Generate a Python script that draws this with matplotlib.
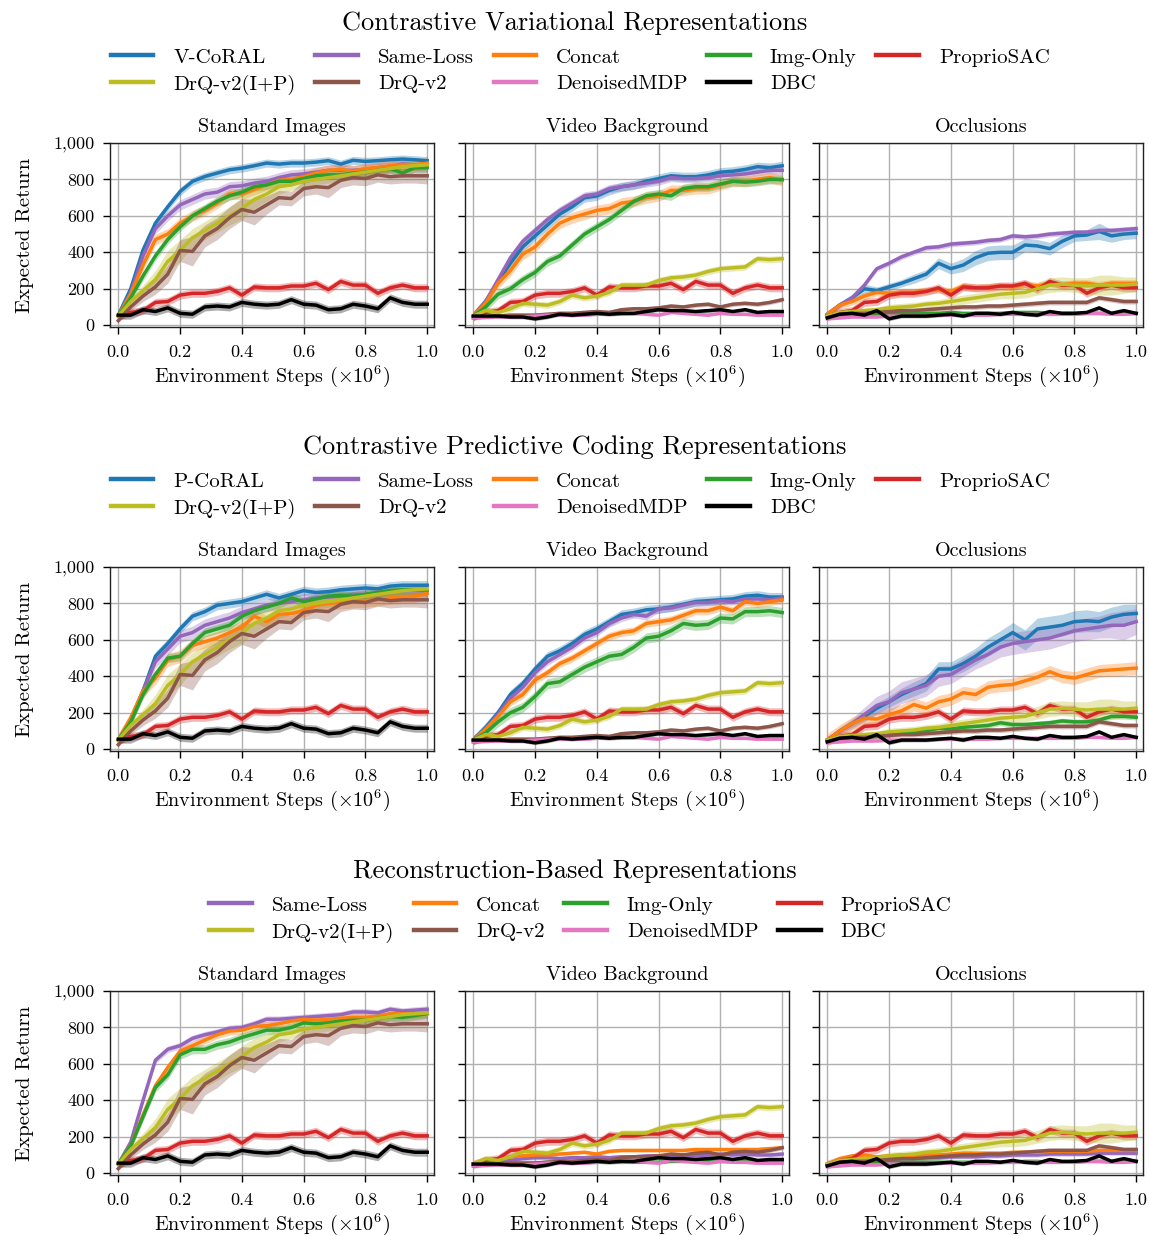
import matplotlib
matplotlib.use("Agg")
import matplotlib.pyplot as plt
from matplotlib.lines import Line2D
from matplotlib.ticker import FuncFormatter, MultipleLocator

plt.rcParams["font.family"] = "cmr10"
plt.rcParams["mathtext.fontset"] = "cm"
plt.rcParams["axes.formatter.use_mathtext"] = True

# environment steps (x 1e6)
STEPS = [0.00, 0.04, 0.08, 0.12, 0.16, 0.20, 0.24, 0.28, 0.32, 0.36, 0.40, 0.44, 0.48,
         0.52, 0.56, 0.60, 0.64, 0.68, 0.72, 0.76, 0.80, 0.84, 0.88, 0.92, 0.96, 1.00]

SECTIONS = ["Contrastive Variational Representations",
            "Contrastive Predictive Coding Representations",
            "Reconstruction-Based Representations"]
ENVS = ["Standard Images", "Video Background", "Occlusions"]

# ---- baselines shared by all three rows ----
proprio_sac = [50, 70, 80, 125, 130, 165, 175, 175, 185, 205, 165, 210, 205, 205, 215, 215,
               230, 195, 240, 220, 220, 175, 205, 220, 205, 205]
drq_ip_std = [50, 130, 190, 250, 350, 410, 480, 520, 560, 600, 640, 690, 720, 760, 770, 790,
              800, 810, 820, 830, 840, 850, 860, 870, 875, 880]
drq_ip_std_band = [10, 20, 30, 50, 60, 60, 50, 50, 50, 50, 60, 50, 40, 40, 30, 30, 30, 30, 30,
                   30, 25, 25, 25, 25, 25, 25]
drq_ip_video = [50, 80, 70, 90, 120, 115, 110, 130, 165, 150, 160, 180, 220, 220, 220, 245,
                260, 265, 275, 295, 310, 315, 320, 365, 360, 365]
drq_ip_occ = [50, 70, 75, 80, 85, 95, 100, 105, 115, 120, 130, 140, 150, 160, 170, 175, 180,
              200, 220, 225, 220, 215, 220, 220, 220, 225]
drq_ip_occ_band = [10, 15, 15, 15, 15, 20, 20, 20, 20, 20, 25, 25, 25, 25, 25, 30, 30, 35, 40,
                   40, 40, 45, 55, 55, 45, 40]
drq_std = [25, 100, 160, 210, 280, 410, 405, 490, 530, 590, 635, 620, 660, 700, 695, 750, 760,
           755, 795, 810, 805, 825, 815, 820, 820, 820]
drq_std_band = [10, 20, 30, 40, 50, 60, 80, 60, 60, 60, 60, 70, 50, 40, 40, 40, 40, 55, 40,
                40, 40, 40, 40, 40, 40, 45]
drq_video = [40, 45, 50, 55, 55, 55, 60, 65, 65, 70, 75, 70, 85, 90, 90, 95, 105, 100, 110,
             115, 100, 115, 120, 115, 125, 140]
drq_occ = [40, 60, 65, 65, 70, 75, 80, 80, 85, 90, 95, 100, 100, 105, 105, 110, 115, 120, 125,
           125, 125, 125, 150, 140, 130, 130]
dbc_std = [55, 55, 85, 75, 95, 65, 60, 100, 105, 100, 125, 115, 110, 115, 140, 115, 110, 85,
           90, 115, 105, 90, 150, 125, 115, 115]
dbc_video = [50, 50, 50, 45, 45, 35, 45, 60, 55, 60, 65, 60, 65, 65, 75, 85, 80, 80, 75, 80,
             85, 75, 85, 70, 75, 75]
dbc_occ = [40, 60, 65, 55, 80, 35, 50, 50, 50, 55, 60, 50, 65, 65, 60, 70, 60, 55, 75, 65,
           65, 70, 95, 65, 80, 65]
denoised_video = [40, 45, 45, 45, 45, 50, 55, 55, 55, 55, 60, 60, 60, 65, 60, 55, 70, 65, 60,
                  55, 65, 60, 60, 55, 55, 55]
denoised_occ = [35, 40, 45, 45, 45, 50, 50, 50, 50, 55, 55, 55, 55, 55, 60, 60, 60, 60, 60, 60,
                60, 65, 65, 60, 60, 65]

# ---- contrastive variational row ----
vcoral_std = [55, 200, 413, 560, 650, 734, 789, 816, 835, 853, 862, 875, 890, 884, 890, 890,
              895, 903, 884, 905, 899, 903, 908, 912, 908, 903]
vcoral_video = [50, 130, 240, 340, 430, 490, 550, 610, 650, 700, 710, 740, 760, 770, 790, 805,
                820, 815, 815, 825, 840, 845, 855, 870, 865, 875]
vcoral_occ = [60, 110, 150, 200, 190, 210, 230, 255, 280, 340, 310, 330, 370, 395, 400, 400,
              440, 435, 420, 460, 490, 495, 515, 490, 500, 505]
vcoral_occ_band = [10, 15, 20, 25, 20, 20, 20, 25, 25, 30, 30, 35, 40, 40, 40, 40, 35, 35, 35,
                   35, 30, 30, 45, 35, 30, 30]
cv_same_std = [50, 180, 380, 530, 600, 660, 690, 720, 730, 760, 765, 780, 790, 810, 825, 830,
               840, 850, 850, 850, 855, 865, 870, 885, 880, 880]
cv_same_video = [50, 130, 250, 370, 460, 520, 580, 630, 670, 710, 720, 750, 760, 770, 780, 790,
                 810, 805, 805, 810, 820, 825, 830, 840, 850, 850]
cv_same_occ = [60, 110, 150, 220, 310, 340, 375, 400, 425, 430, 445, 450, 455, 465, 470, 490,
               485, 490, 500, 505, 510, 510, 520, 520, 525, 530]
cv_concat_std = [50, 170, 330, 470, 500, 560, 600, 630, 670, 720, 720, 745, 770, 795, 800, 815,
                 835, 850, 855, 845, 860, 865, 875, 880, 880, 890]
cv_concat_video = [50, 120, 230, 300, 390, 430, 500, 560, 590, 610, 630, 640, 670, 680, 700,
                   710, 740, 740, 750, 750, 770, 790, 790, 800, 810, 795]
cv_concat_occ = [60, 110, 130, 160, 180, 175, 180, 180, 190, 195, 185, 215, 205, 210, 215, 210,
                 225, 215, 230, 220, 230, 230, 220, 230, 230, 230]
cv_img_std = [50, 150, 270, 380, 470, 540, 600, 640, 680, 710, 730, 760, 770, 790, 790, 805,
              820, 825, 825, 835, 840, 850, 860, 835, 865, 865]
cv_img_video = [50, 100, 170, 200, 250, 290, 350, 380, 440, 500, 540, 580, 630, 680, 710, 720,
                710, 750, 760, 760, 775, 790, 785, 790, 800, 800]
cv_img_occ = [50, 55, 60, 60, 60, 65, 65, 65, 65, 65, 70, 65, 65, 65, 65, 70, 70, 70, 65, 65,
              65, 65, 65, 65, 65, 65]

# ---- contrastive predictive coding row ----
pcoral_std = [50, 160, 320, 510, 580, 660, 730, 755, 790, 800, 810, 830, 850, 830, 850, 870,
              860, 865, 875, 880, 885, 880, 895, 900, 900, 900]
pcoral_video = [50, 120, 200, 300, 360, 440, 510, 540, 580, 630, 660, 700, 740, 750, 765, 770,
                780, 795, 810, 815, 820, 825, 840, 845, 835, 835]
pcoral_occ = [50, 100, 140, 180, 225, 260, 300, 330, 360, 440, 440, 470, 510, 560, 600, 640,
              600, 660, 670, 680, 700, 705, 700, 725, 740, 745]
pcoral_occ_band = [10, 15, 20, 25, 30, 30, 35, 40, 40, 40, 40, 45, 45, 50, 50, 55, 55, 60, 60,
                   60, 60, 60, 55, 55, 55, 50]
cpc_same_std = [50, 160, 320, 480, 550, 620, 640, 680, 700, 720, 750, 770, 790, 800, 810, 820,
                830, 835, 840, 850, 850, 860, 870, 870, 870, 870]
cpc_same_video = [50, 110, 190, 280, 340, 420, 480, 520, 560, 610, 640, 690, 720, 740, 730,
                  770, 775, 790, 805, 805, 815, 810, 825, 825, 820, 830]
cpc_same_occ = [50, 100, 140, 190, 240, 260, 310, 330, 350, 400, 410, 450, 490, 520, 560, 580,
                590, 600, 610, 630, 650, 660, 670, 680, 680, 700]
cpc_same_occ_band = [10, 20, 30, 40, 50, 60, 60, 60, 60, 55, 50, 50, 50, 50, 55, 60, 60, 60,
                     60, 60, 60, 60, 60, 70, 80, 70]
cpc_concat_std = [50, 170, 320, 390, 490, 510, 570, 590, 610, 640, 670, 730, 700, 740, 745,
                  760, 790, 800, 805, 810, 815, 820, 830, 835, 840, 855]
cpc_concat_video = [50, 110, 180, 260, 300, 380, 420, 470, 500, 540, 580, 620, 640, 650, 690,
                    700, 710, 735, 760, 760, 780, 760, 810, 800, 810, 820]
cpc_concat_occ = [50, 100, 140, 170, 165, 190, 210, 245, 225, 260, 275, 310, 300, 340, 350, 355,
                  375, 395, 425, 400, 390, 410, 430, 435, 440, 445]
cpc_img_std = [50, 150, 300, 410, 500, 510, 580, 640, 660, 680, 730, 760, 780, 800, 830, 810,
               825, 840, 845, 840, 850, 860, 870, 875, 875, 875]
cpc_img_video = [50, 90, 150, 200, 230, 290, 360, 370, 410, 450, 480, 510, 520, 560, 610, 620,
                 650, 690, 680, 685, 720, 715, 755, 755, 760, 750]
cpc_img_occ = [50, 60, 65, 70, 75, 80, 90, 95, 100, 115, 110, 120, 125, 130, 145, 135, 135, 140,
               145, 155, 150, 150, 160, 180, 180, 175]

# ---- reconstruction row (no main method) ----
rec_same_std = [50, 170, 400, 620, 680, 700, 740, 760, 775, 795, 800, 820, 845, 845, 850, 855,
                860, 865, 870, 885, 885, 880, 900, 890, 895, 900]
rec_same_video = [50, 55, 60, 70, 80, 85, 85, 80, 85, 85, 90, 85, 90, 90, 95, 95, 95, 100, 95,
                  100, 105, 100, 105, 100, 100, 105]
rec_same_occ = [40, 55, 65, 70, 70, 75, 80, 80, 85, 85, 90, 90, 90, 95, 95, 100, 100, 100, 105,
                105, 105, 105, 110, 110, 110, 110]
rec_concat_std = [50, 150, 320, 480, 580, 670, 700, 730, 760, 780, 785, 805, 810, 820, 835, 845,
                  840, 845, 850, 855, 855, 860, 875, 875, 875, 880]
rec_concat_video = [50, 70, 80, 90, 95, 100, 100, 105, 110, 115, 105, 120, 125, 125, 125, 125,
                    125, 125, 130, 130, 130, 130, 130, 130, 135, 140]
rec_concat_occ = [50, 80, 95, 100, 90, 95, 100, 95, 100, 100, 105, 110, 110, 110, 110, 115, 115,
                  115, 120, 120, 120, 120, 125, 125, 125, 125]
rec_img_std = [50, 150, 310, 470, 540, 650, 680, 680, 705, 720, 745, 765, 785, 785, 800, 825,
               820, 825, 835, 840, 840, 850, 860, 855, 865, 875]
rec_img_video = [50, 50, 55, 55, 55, 55, 60, 60, 60, 60, 60, 60, 60, 60, 60, 60, 65, 65, 65, 65,
                 65, 65, 65, 65, 65, 65]
rec_img_occ = [40, 55, 55, 55, 60, 60, 60, 60, 60, 60, 60, 60, 60, 60, 60, 60, 65, 65, 60, 60,
               65, 65, 65, 65, 65, 65]

C = {"main": "tab:blue", "same": "tab:purple", "concat": "tab:orange", "img": "tab:green",
     "proprio": "tab:red", "drqip": "tab:olive", "drq": "tab:brown", "denoised": "tab:pink",
     "dbc": "black"}
LABELS = {"same": "Same-Loss", "concat": "Concat", "img": "Img-Only", "proprio": "ProprioSAC",
          "drqip": "DrQ-v2(I+P)", "drq": "DrQ-v2", "denoised": "DenoisedMDP", "dbc": "DBC"}


def baselines(env):
    if env == 0:
        return [("proprio", proprio_sac, 22), ("drqip", drq_ip_std, drq_ip_std_band),
                ("drq", drq_std, drq_std_band), ("dbc", dbc_std, 22)]
    if env == 1:
        return [("proprio", proprio_sac, 22), ("drqip", drq_ip_video, 18),
                ("drq", drq_video, 12), ("denoised", denoised_video, 8), ("dbc", dbc_video, 10)]
    return [("proprio", proprio_sac, 22), ("drqip", drq_ip_occ, drq_ip_occ_band),
            ("drq", drq_occ, 14), ("denoised", denoised_occ, 8), ("dbc", dbc_occ, 10)]


ROWS = [
    ("V-CoRAL", [
        [("main", vcoral_std, 22), ("same", cv_same_std, 28), ("concat", cv_concat_std, 30), ("img", cv_img_std, 25)],
        [("main", vcoral_video, 25), ("same", cv_same_video, 22), ("concat", cv_concat_video, 30), ("img", cv_img_video, 25)],
        [("main", vcoral_occ, vcoral_occ_band), ("same", cv_same_occ, 15), ("concat", cv_concat_occ, 20), ("img", cv_img_occ, 8)],
    ]),
    ("P-CoRAL", [
        [("main", pcoral_std, 25), ("same", cpc_same_std, 35), ("concat", cpc_concat_std, 35), ("img", cpc_img_std, 25)],
        [("main", pcoral_video, 25), ("same", cpc_same_video, 20), ("concat", cpc_concat_video, 22), ("img", cpc_img_video, 28)],
        [("main", pcoral_occ, pcoral_occ_band), ("same", cpc_same_occ, cpc_same_occ_band), ("concat", cpc_concat_occ, 35), ("img", cpc_img_occ, 15)],
    ]),
    (None, [
        [("same", rec_same_std, 18), ("concat", rec_concat_std, 22), ("img", rec_img_std, 25)],
        [("same", rec_same_video, 12), ("concat", rec_concat_video, 10), ("img", rec_img_video, 8)],
        [("same", rec_same_occ, 12), ("concat", rec_concat_occ, 10), ("img", rec_img_occ, 8)],
    ]),
]

W, H = 1149, 1236
fig = plt.figure(figsize=(W / 100, H / 100), dpi=100)


def fx(px):
    return px / W


def fy(py):
    return 1 - py / H


LEFTS = [110, 465, 819]
AX_W, AX_H = 324, 184
ROW_STEP = 424

for r, (main_name, panels) in enumerate(ROWS):
    off = r * ROW_STEP
    fig.text(0.5, fy(23 + off), SECTIONS[r], ha="center", va="center", fontsize=19)

    keys = (["main"] if main_name else []) + ["same", "concat", "img", "proprio",
                                              "drqip", "drq", "denoised", "dbc"]
    labels = {**LABELS, "main": main_name}
    ncol = 5 if main_name else 4
    # matplotlib fills legend columns top-to-bottom, so interleave the two rows
    top, bot = keys[:ncol], keys[ncol:]
    order = []
    for i in range(ncol):
        order.append(top[i])
        if i < len(bot):
            order.append(bot[i])
    handles = [Line2D([], [], color=C[k], lw=3.2) for k in order]
    fig.legend(handles, [labels[k] for k in order], loc="upper center",
               bbox_to_anchor=(0.505, fy(48 + off)), ncol=ncol, frameon=False, fontsize=15,
               handlelength=2.05, handletextpad=0.95, columnspacing=0.95, labelspacing=0.38,
               borderpad=0, borderaxespad=0)

    for c in range(3):
        ax = fig.add_axes([fx(LEFTS[c]), fy(143 + off + AX_H), fx(AX_W), AX_H / H])
        curves = panels[c] + baselines(c)
        curves.sort(key=lambda t: keys.index(t[0]))
        for key, ys, band in curves:
            bw = band if isinstance(band, list) else [band] * len(ys)
            lo = [y - b for y, b in zip(ys, bw)]
            hi = [y + b for y, b in zip(ys, bw)]
            ax.fill_between(STEPS, lo, hi, color=C[key], alpha=0.32, lw=0)
            ax.plot(STEPS, ys, color=C[key], lw=2.5)
        ax.set_xlim(-0.027, 1.022)
        ax.set_ylim(-10, 1000)
        ax.xaxis.set_major_locator(MultipleLocator(0.2))
        ax.yaxis.set_major_locator(MultipleLocator(200))
        ax.xaxis.set_major_formatter(FuncFormatter(lambda v, p: f"{v:.1f}"))
        ax.yaxis.set_major_formatter(FuncFormatter(lambda v, p: f"{v:,.0f}"))
        ax.grid(True, color="#b0b0b0", lw=1.0)
        ax.set_axisbelow(True)
        ax.tick_params(axis="both", direction="out", length=5, width=1, labelsize=13)
        ax.tick_params(axis="x", pad=8)
        ax.tick_params(axis="y", pad=6)
        for s in ax.spines.values():
            s.set_color("#222222")
            s.set_linewidth(1.0)
        if c > 0:
            ax.tick_params(axis="y", labelleft=False)
        else:
            ax.set_ylabel("Expected Return", fontsize=15, labelpad=14)
        ax.set_xlabel(r"Environment Steps ($\times10^6$)", fontsize=14.5, labelpad=2.5)
        ax.set_title(ENVS[c], fontsize=14.5, va="bottom", pad=5)

fig.savefig("out.png", dpi=100)
